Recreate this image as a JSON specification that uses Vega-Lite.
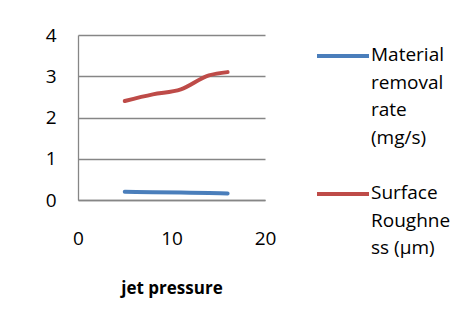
{
  "$schema": "https://vega.github.io/schema/vega-lite/v6.json",
  "width": 187,
  "height": 165,
  "padding": {"left": 5, "top": 26, "right": 0, "bottom": 5},
  "background": "white",
  "config": {
    "font": "Open Sans",
    "view": {"stroke": null},
    "axis": {"labelFont": "Open Sans", "labelFontSize": 19, "labelColor": "black", "gridColor": "#868686", "domainColor": "#868686", "domainWidth": 1.3, "gridWidth": 1.3}
  },
  "data": {
    "values": [
      {"p": 5, "v": 0.2, "s": "Material removal rate (mg/s)"},
      {"p": 8, "v": 0.19, "s": "Material removal rate (mg/s)"},
      {"p": 11, "v": 0.18, "s": "Material removal rate (mg/s)"},
      {"p": 14, "v": 0.17, "s": "Material removal rate (mg/s)"},
      {"p": 16, "v": 0.16, "s": "Material removal rate (mg/s)"},
      {"p": 5, "v": 2.4, "s": "Surface Roughness (µm)"},
      {"p": 8, "v": 2.56, "s": "Surface Roughness (µm)"},
      {"p": 11, "v": 2.68, "s": "Surface Roughness (µm)"},
      {"p": 14, "v": 3.02, "s": "Surface Roughness (µm)"},
      {"p": 16, "v": 3.1, "s": "Surface Roughness (µm)"}
    ]
  },
  "mark": {"type": "line", "strokeWidth": 4, "interpolate": "monotone", "strokeCap": "round"},
  "encoding": {
    "x": {
      "field": "p", "type": "quantitative",
      "scale": {"domain": [0, 20], "nice": false},
      "axis": {"values": [0, 10, 20], "ticks": false, "grid": false, "labelPadding": 29, "title": "jet pressure", "titleFont": "Open Sans", "titleFontSize": 17, "titleFontWeight": "bold", "titleColor": "black", "titlePadding": 32, "labelFlush": false}
    },
    "y": {
      "field": "v", "type": "quantitative",
      "scale": {"domain": [0, 4], "nice": false},
      "axis": {"values": [0, 1, 2, 3, 4], "ticks": false, "grid": true, "labelPadding": 22, "title": null, "minExtent": 73, "maxExtent": 73}
    },
    "color": {
      "field": "s", "type": "nominal",
      "scale": {"domain": ["Material removal rate (mg/s)", "Surface Roughness (µm)"], "range": ["#4A7EBB", "#BE4B48"]},
      "legend": {
        "title": null,
        "orient": "none",
        "legendX": 237,
        "legendY": -7,
        "symbolType": "stroke",
        "symbolSize": 2704,
        "symbolStrokeWidth": 4,
        "labelFont": "Open Sans",
        "labelFontSize": 19,
        "labelColor": "black",
        "labelOffset": 0,
        "labelBaseline": "top",
        "labelLimit": 200,
        "rowPadding": 18,
        "padding": 0,
        "labelExpr": "datum.label == 'Surface Roughness (µm)' ? ['Surface', 'Roughne', 'ss   (µm)'] : ['Material', 'removal', 'rate', '(mg/s)']",
        "encode": {"labels": {"update": {"lineHeight": {"value": 27.5}, "dy": {"value": -10}}}}
      }
    }
  }
}
